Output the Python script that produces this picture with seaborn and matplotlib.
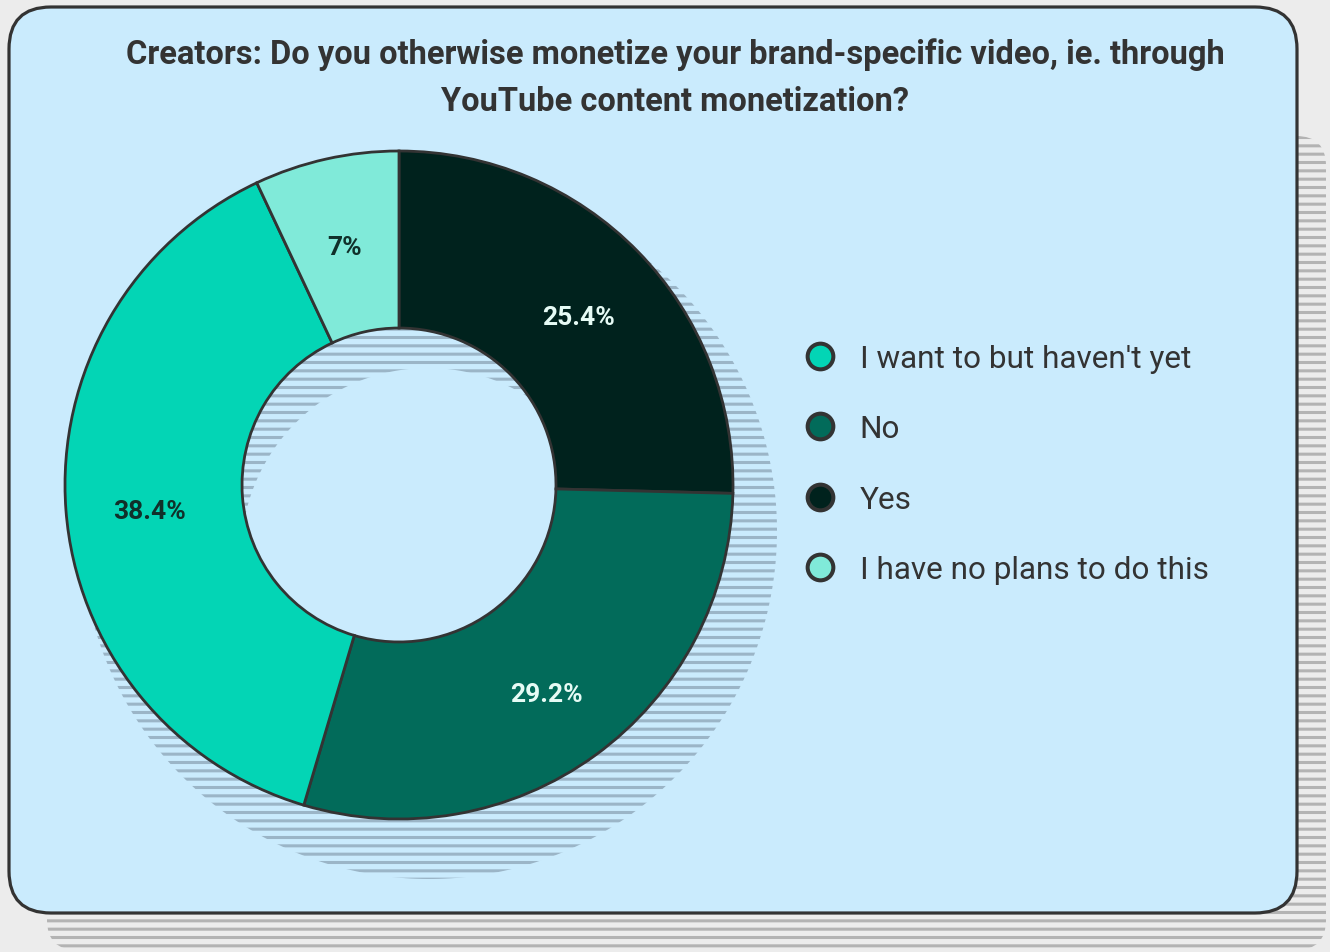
import numpy as np
import matplotlib
matplotlib.use("Agg")
import matplotlib.pyplot as plt
from matplotlib.patches import FancyBboxPatch, PathPatch
from matplotlib.path import Path
from matplotlib.lines import Line2D
import seaborn as sns

# ---- data ----
title = ("Creators: Do you otherwise monetize your brand-specific video, ie. through\n"
         "YouTube content monetization?")
slice_labels = ["Yes", "No", "I want to but haven't yet", "I have no plans to do this"]
slice_values = [25.4, 29.2, 38.4, 7.0]
legend_order = ["I want to but haven't yet", "No", "Yes", "I have no plans to do this"]
palette = {
    "I want to but haven't yet": "#03d5b5",
    "No": "#026b5a",
    "Yes": "#00221d",
    "I have no plans to do this": "#80ead9",
}
label_text_colors = {
    "I want to but haven't yet": "#10302a",
    "No": "#e6fbf5",
    "Yes": "#e6fbf5",
    "I have no plans to do this": "#10302a",
}

# ---- style ----
sns.set_theme(style="white")
plt.rcParams["font.family"] = ["Roboto", "DejaVu Sans"]
plt.rcParams["hatch.linewidth"] = 2.2

W, H = 1330, 953
fig = plt.figure(figsize=(W / 100, H / 100), dpi=100, facecolor="#ececec")

# pixel-space canvas for the card and shadows
bg = fig.add_axes([0, 0, 1, 1], zorder=0)
bg.set_xlim(0, W)
bg.set_ylim(H, 0)
bg.axis("off")

card_shadow = FancyBboxPatch((47, 137), 1326 - 47, 951 - 137,
                             boxstyle="round,pad=0,rounding_size=30",
                             facecolor="none", edgecolor="#b3b3b3",
                             hatch="--", linewidth=0)
bg.add_patch(card_shadow)
card = FancyBboxPatch((9, 8), 1297 - 9, 914 - 8,
                      boxstyle="round,pad=0,rounding_size=42",
                      facecolor="#caebfd", edgecolor="#333333", linewidth=2.3)
bg.add_patch(card)

# hatched ring shadow behind the donut
t = np.linspace(0, 2 * np.pi, 400)
outer = np.column_stack([429 + 348 * np.cos(t), 532 + 348 * np.sin(t)])
inner = np.column_stack([428 + 187 * np.cos(-t), 556 + 187 * np.sin(-t)])
verts = np.vstack([outer, outer[:1], inner, inner[:1]])
codes = ([Path.MOVETO] + [Path.LINETO] * (len(outer) - 1) + [Path.CLOSEPOLY]
         + [Path.MOVETO] + [Path.LINETO] * (len(inner) - 1) + [Path.CLOSEPOLY])
ring_shadow = PathPatch(Path(verts, codes), facecolor="none", edgecolor="#9bb5c7",
                        hatch="--", linewidth=0)
bg.add_patch(ring_shadow)

# ---- donut ----
cx, cy, R = 399, 486, 334
pax = fig.add_axes([(cx - R) / W, (H - cy - R) / H, 2 * R / W, 2 * R / H], zorder=2)
pax.patch.set_alpha(0)

wedges, _, autotexts = pax.pie(
    slice_values,
    colors=[palette[k] for k in slice_labels],
    startangle=90,
    counterclock=False,
    radius=1.0,
    pctdistance=0.75,
    autopct=lambda p: f"{round(p, 1):g}%",
    wedgeprops=dict(width=0.53, edgecolor="#333333", linewidth=2.0),
    textprops=dict(fontsize=19, fontweight="bold"),
)
for txt, key in zip(autotexts, slice_labels):
    txt.set_color(label_text_colors[key])
    x, y = txt.get_position()
    txt.set_position((x, y - 0.02))
pax.set_xlim(-1, 1)
pax.set_ylim(-1, 1)
pax.set_aspect("equal")
pax.axis("off")

# ---- title ----
fig.text(675 / W, 1 - 78 / H, title, ha="center", va="center",
         fontsize=23.5, fontweight="bold", color="#333333", linespacing=1.59)

# ---- legend ----
handles = [Line2D([], [], linestyle="", marker="o", markersize=18.5,
                  markerfacecolor=palette[k], markeredgecolor="#333333",
                  markeredgewidth=2.9)
           for k in legend_order]
fig.legend(handles, legend_order, loc="center left",
           bbox_to_anchor=(804.7 / W, 1 - 465 / H),
           frameon=False, fontsize=22.7, labelcolor="#333333",
           handlelength=1.0, handletextpad=0.74, labelspacing=1.31,
           borderpad=0, borderaxespad=0)

fig.savefig("out.png", dpi=100, facecolor=fig.get_facecolor())
